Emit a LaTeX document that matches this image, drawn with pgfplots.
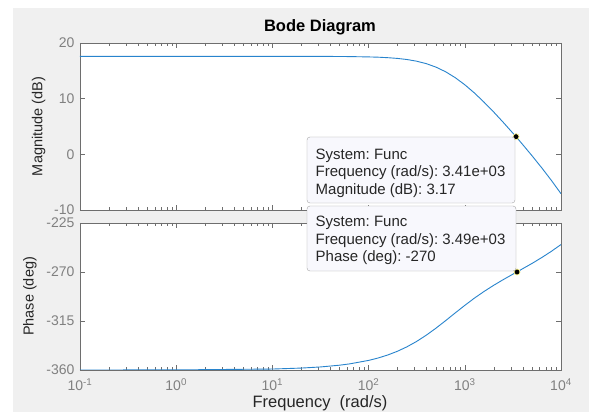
\documentclass[border=0pt]{standalone}
\usepackage{pgfplots}
\pgfplotsset{compat=1.18}
\usepackage{fontspec}
\setmainfont{Liberation Sans}
\frenchspacing
\definecolor{figbg}{RGB}{240,240,240}
\definecolor{mblue}{RGB}{40,132,205}
\definecolor{axgray}{RGB}{110,110,110}
\definecolor{tickgray}{RGB}{128,128,128}
\definecolor{labgray}{RGB}{38,38,38}
\definecolor{tipfill}{RGB}{248,248,253}
\definecolor{tipedge}{RGB}{165,165,165}
\pgfkeys{/pgf/number format/assume math mode=true}
\begin{document}
\begin{tikzpicture}
\fill[white] (0pt,0pt) rectangle (594pt,412pt);
\fill[figbg] (13pt,0pt) rectangle (589pt,404pt);
% magnitude
\begin{axis}[scale only axis, width=481pt, height=167pt, anchor=south west, at={(80pt,202pt)},
  xmode=log, xmin=0.1, xmax=10000,
  ymin=-10, ymax=20, ytick={-10,0,10,20},
  axis background/.style={fill=white},
  axis line style={axgray},
  every tick/.style={axgray},
  major tick length=5pt, minor tick length=3pt,
  tick align=inside,
  xtick={0.1,1,10,100,1000,10000},
  minor xtick={0.2,0.3,0.4,0.5,0.6,0.7,0.8,0.9,2,3,4,5,6,7,8,9,20,30,40,50,60,70,80,90,200,300,400,500,600,700,800,900,2000,3000,4000,5000,6000,7000,8000,9000},
  ticklabel style={font=\fontsize{14}{14}\selectfont, text=tickgray},
  yticklabel style={xshift=-2pt},
  ylabel style={font=\fontsize{14.5}{14.5}\selectfont, text=labgray, yshift=2pt},
  xticklabels={},
  ylabel={Magnitude (dB)}]
\addplot[mblue, line width=0.9pt] coordinates {
(0.1,17.6)(1,17.6)(10,17.6)(20,17.60)(31.6,17.59)(50,17.58)(63.1,17.56)(100,17.50)(126,17.45)(158.5,17.36)(200,17.23)(251,17.03)(316,16.73)(398,16.29)(501,15.67)(631,14.84)(794,13.78)(1000,12.50)(1259,11.02)(1585,9.37)(1995,7.61)(2512,5.74)(3162,3.80)(3410,3.17)(3981,1.79)(5012,-0.28)(6310,-2.43)(7943,-4.68)(10000,-7.07)};
\addplot[only marks, mark=*, mark size=3pt, mark options={fill=black, draw=yellow!45!white, line width=0.7pt}] coordinates {(3410,3.17)};
\end{axis}
% phase
\begin{axis}[scale only axis, width=481pt, height=147pt, anchor=south west, at={(80pt,42pt)},
  xmode=log, xmin=0.1, xmax=10000,
  ymin=-360, ymax=-225, ytick={-360,-315,-270,-225},
  axis background/.style={fill=white},
  axis line style={axgray},
  every tick/.style={axgray},
  major tick length=5pt, minor tick length=3pt,
  tick align=inside,
  xtick={0.1,1,10,100,1000,10000},
  minor xtick={0.2,0.3,0.4,0.5,0.6,0.7,0.8,0.9,2,3,4,5,6,7,8,9,20,30,40,50,60,70,80,90,200,300,400,500,600,700,800,900,2000,3000,4000,5000,6000,7000,8000,9000},
  ticklabel style={font=\fontsize{14}{14}\selectfont, text=tickgray},
  yticklabel style={xshift=-2pt},
  xticklabel style={yshift=-5pt},
  ylabel style={font=\fontsize{14.5}{14.5}\selectfont, text=labgray, yshift=3pt},
  xticklabels={10\textsuperscript{-1},10\textsuperscript{0},10\textsuperscript{1},10\textsuperscript{2},10\textsuperscript{3},10\textsuperscript{4}},
  ylabel={Phase (deg)}]
\addplot[mblue, line width=0.9pt] coordinates {
(0.1,-359.99)(1,-359.91)(10,-359.11)(20,-358.23)(31.6,-357.20)(50,-355.57)(63.1,-354.42)(100,-351.19)(126,-348.95)(158.5,-346.19)(200,-342.74)(251,-338.66)(316,-333.74)(398,-328.02)(501,-321.62)(631,-314.71)(794,-307.63)(1000,-300.64)(1259,-293.98)(1585,-287.88)(1995,-282.24)(2512,-276.99)(3162,-272.00)(3490,-270.0)(3981,-267.08)(5012,-262.05)(6310,-256.74)(7943,-251.01)(10000,-244.78)};
\addplot[only marks, mark=*, mark size=3pt, mark options={fill=black, draw=yellow!45!white, line width=0.7pt}] coordinates {(3490,-270)};
\end{axis}
% title and x label
\node[anchor=base, font=\bfseries\fontsize{16.5}{16.5}\selectfont] at (320pt,380pt) {Bode Diagram};
\node[anchor=base, font=\fontsize{16.5}{16.5}\selectfont, text=labgray] at (320pt,4pt) {Frequency\ \ (rad/s)};
% data tips
\begin{scope}[every node/.style={anchor=base west, inner sep=0pt, font=\fontsize{15}{15}\selectfont, text=labgray}]
\draw[draw=tipedge, fill=tipfill, rounded corners=3pt] (307pt,275pt) rectangle (515pt,209pt);
\node at (315.5pt,252.6pt) {System: Func};
\node at (315.5pt,235.2pt) {Frequency (rad/s): 3.41e+03};
\node at (315.5pt,217.8pt) {Magnitude (dB): 3.17};
\draw[draw=tipedge, fill=tipfill, rounded corners=3pt] (307pt,206pt) rectangle (516pt,141pt);
\node at (315.5pt,185pt) {System: Func};
\node at (315.5pt,167.6pt) {Frequency (rad/s): 3.49e+03};
\node at (315.5pt,150.2pt) {Phase (deg): -270};
\end{scope}
\pgfresetboundingbox
\useasboundingbox (0pt,0pt) rectangle (594pt,412pt);
\end{tikzpicture}
\end{document}
